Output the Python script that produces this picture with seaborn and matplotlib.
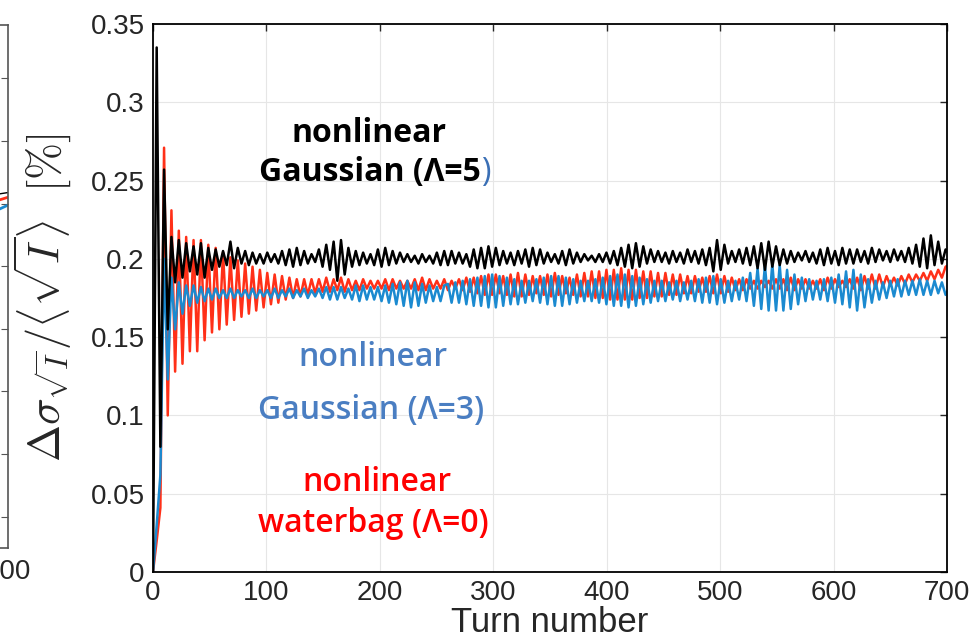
import numpy as np
import pandas as pd
import matplotlib
matplotlib.use("Agg")
import matplotlib.pyplot as plt
import seaborn as sns

# turn samples (every half oscillation)
turns = np.arange(217) * 3.25

# nonlinear Gaussian, Lambda = 5
black_l5 = [
    0.0, 0.335, 0.08, 0.257, 0.155, 0.214, 0.185, 0.212, 0.188, 0.21,
    0.192, 0.208, 0.19, 0.21, 0.188, 0.207, 0.193, 0.206, 0.195, 0.205,
    0.196, 0.211, 0.194, 0.207, 0.197, 0.205, 0.196, 0.204, 0.197, 0.203,
    0.197, 0.204, 0.198, 0.203, 0.197, 0.205, 0.196, 0.206, 0.195, 0.207,
    0.196, 0.205, 0.197, 0.203, 0.198, 0.206, 0.195, 0.209, 0.193, 0.211,
    0.186, 0.212, 0.19, 0.207, 0.195, 0.205, 0.196, 0.204, 0.197, 0.203,
    0.196, 0.206, 0.195, 0.207, 0.196, 0.205, 0.197, 0.204, 0.198, 0.203,
    0.198, 0.202, 0.197, 0.203, 0.198, 0.202, 0.197, 0.204, 0.196, 0.205,
    0.196, 0.205, 0.197, 0.204, 0.197, 0.203, 0.195, 0.206, 0.194, 0.207,
    0.194, 0.208, 0.195, 0.207, 0.196, 0.205, 0.197, 0.204, 0.196, 0.205,
    0.197, 0.206, 0.195, 0.207, 0.196, 0.206, 0.197, 0.204, 0.198, 0.203,
    0.197, 0.205, 0.196, 0.206, 0.197, 0.204, 0.198, 0.203, 0.199, 0.202,
    0.198, 0.203, 0.198, 0.204, 0.197, 0.205, 0.196, 0.207, 0.195, 0.209,
    0.194, 0.21, 0.195, 0.208, 0.197, 0.206, 0.198, 0.205, 0.198, 0.204,
    0.197, 0.205, 0.198, 0.204, 0.197, 0.206, 0.198, 0.205, 0.197, 0.206,
    0.196, 0.207, 0.192, 0.212, 0.193, 0.209, 0.197, 0.205, 0.198, 0.206,
    0.197, 0.207, 0.196, 0.208, 0.194, 0.21, 0.193, 0.211, 0.195, 0.208,
    0.196, 0.206, 0.197, 0.205, 0.198, 0.204, 0.199, 0.205, 0.198, 0.204,
    0.197, 0.206, 0.196, 0.207, 0.197, 0.205, 0.196, 0.207, 0.197, 0.206,
    0.197, 0.206, 0.198, 0.205, 0.197, 0.207, 0.198, 0.206, 0.199, 0.205,
    0.198, 0.206, 0.199, 0.205, 0.198, 0.207, 0.197, 0.209, 0.195, 0.213,
    0.194, 0.215, 0.196, 0.211, 0.197, 0.206, 0.203,
]

# nonlinear Gaussian, Lambda = 3
blue_l3 = [
    0.0, 0.03, 0.062, 0.2, 0.123, 0.188, 0.155, 0.185, 0.165, 0.183,
    0.17, 0.183, 0.172, 0.182, 0.173, 0.181, 0.174, 0.181, 0.175, 0.18,
    0.175, 0.181, 0.175, 0.18, 0.176, 0.18, 0.175, 0.181, 0.175, 0.18,
    0.176, 0.18, 0.175, 0.181, 0.175, 0.18, 0.176, 0.181, 0.175, 0.18,
    0.176, 0.181, 0.175, 0.18, 0.176, 0.181, 0.175, 0.182, 0.174, 0.182,
    0.174, 0.182, 0.175, 0.181, 0.174, 0.183, 0.173, 0.183, 0.174, 0.182,
    0.174, 0.182, 0.173, 0.183, 0.172, 0.184, 0.171, 0.185, 0.17, 0.186,
    0.169, 0.185, 0.17, 0.184, 0.172, 0.183, 0.173, 0.182, 0.173, 0.183,
    0.184, 0.172, 0.185, 0.172, 0.186, 0.171, 0.187, 0.17, 0.188, 0.17,
    0.189, 0.169, 0.19, 0.169, 0.189, 0.17, 0.188, 0.171, 0.187, 0.171,
    0.186, 0.172, 0.186, 0.173, 0.187, 0.172, 0.188, 0.171, 0.189, 0.17,
    0.189, 0.17, 0.188, 0.171, 0.187, 0.172, 0.186, 0.173, 0.186, 0.173,
    0.187, 0.172, 0.188, 0.171, 0.189, 0.17, 0.19, 0.17, 0.19, 0.169,
    0.189, 0.17, 0.188, 0.171, 0.187, 0.172, 0.186, 0.173, 0.186, 0.173,
    0.185, 0.174, 0.186, 0.173, 0.185, 0.174, 0.186, 0.173, 0.187, 0.172,
    0.188, 0.172, 0.189, 0.171, 0.187, 0.172, 0.186, 0.173, 0.186, 0.174,
    0.188, 0.173, 0.191, 0.17, 0.194, 0.168, 0.196, 0.167, 0.197, 0.167,
    0.196, 0.167, 0.193, 0.168, 0.19, 0.171, 0.188, 0.173, 0.187, 0.174,
    0.186, 0.174, 0.187, 0.173, 0.188, 0.172, 0.19, 0.171, 0.192, 0.169,
    0.193, 0.167, 0.19, 0.169, 0.187, 0.172, 0.186, 0.174, 0.185, 0.175,
    0.186, 0.176, 0.187, 0.176, 0.186, 0.177, 0.186, 0.177, 0.187, 0.177,
    0.186, 0.177, 0.186, 0.178, 0.185, 0.177, 0.181,
]

# nonlinear waterbag, Lambda = 0
red_l0 = [
    0.0, 0.02, 0.041, 0.271, 0.1, 0.231, 0.128, 0.218, 0.133, 0.214,
    0.141, 0.212, 0.141, 0.212, 0.148, 0.209, 0.153, 0.207, 0.155, 0.204,
    0.158, 0.201, 0.161, 0.199, 0.163, 0.197, 0.165, 0.195, 0.167, 0.193,
    0.169, 0.191, 0.171, 0.19, 0.172, 0.189, 0.174, 0.188, 0.175, 0.187,
    0.176, 0.187, 0.177, 0.187, 0.178, 0.187, 0.179, 0.188, 0.179, 0.187,
    0.18, 0.188, 0.179, 0.187, 0.18, 0.186, 0.18, 0.187, 0.181, 0.186,
    0.181, 0.186, 0.181, 0.187, 0.18, 0.187, 0.181, 0.186, 0.181, 0.186,
    0.181, 0.187, 0.18, 0.188, 0.18, 0.187, 0.181, 0.186, 0.181, 0.187,
    0.18, 0.186, 0.181, 0.187, 0.18, 0.188, 0.179, 0.188, 0.178, 0.189,
    0.177, 0.19, 0.177, 0.19, 0.178, 0.189, 0.177, 0.19, 0.176, 0.191,
    0.176, 0.19, 0.177, 0.189, 0.178, 0.189, 0.177, 0.19, 0.176, 0.191,
    0.177, 0.189, 0.178, 0.188, 0.177, 0.19, 0.176, 0.191, 0.176, 0.192,
    0.175, 0.192, 0.175, 0.193, 0.174, 0.193, 0.174, 0.194, 0.174, 0.193,
    0.174, 0.193, 0.175, 0.192, 0.175, 0.192, 0.176, 0.191, 0.176, 0.191,
    0.177, 0.19, 0.177, 0.19, 0.178, 0.189, 0.178, 0.189, 0.179, 0.188,
    0.179, 0.189, 0.178, 0.19, 0.178, 0.189, 0.179, 0.188, 0.18, 0.187,
    0.18, 0.187, 0.181, 0.186, 0.181, 0.186, 0.182, 0.186, 0.181, 0.187,
    0.181, 0.187, 0.18, 0.188, 0.18, 0.187, 0.181, 0.187, 0.181, 0.186,
    0.181, 0.187, 0.18, 0.188, 0.181, 0.187, 0.182, 0.186, 0.182, 0.187,
    0.181, 0.188, 0.18, 0.189, 0.181, 0.19, 0.181, 0.19, 0.182, 0.189,
    0.183, 0.188, 0.183, 0.189, 0.184, 0.19, 0.185, 0.19, 0.186, 0.191,
    0.186, 0.192, 0.187, 0.193, 0.188, 0.195, 0.196,
]

# tail ends of the neighbouring (cropped) panel on the left
left_turns = [690, 700]
left_black = [0.226, 0.227]
left_red = [0.222, 0.224]
left_blue = [0.216, 0.219]

x_ticks = [0, 100, 200, 300, 400, 500, 600, 700]
y_ticks = [0, 0.05, 0.1, 0.15, 0.2, 0.25, 0.3, 0.35]
y_tick_labels = ["0", "0.05", "0.1", "0.15", "0.2", "0.25", "0.3", "0.35"]

c_black = "#000000"
c_blue = "#1b8ad0"
c_red = "#ff3018"

sns.set_style("white")
plt.rcParams["font.family"] = ["Liberation Sans", "DejaVu Sans"]
plt.rcParams["mathtext.fontset"] = "cm"

df = pd.DataFrame({"turn": turns, "black": black_l5, "blue": blue_l3, "red": red_l0})

fig = plt.figure(figsize=(9.78, 6.4), dpi=100)

# cropped neighbour panel
axl = fig.add_axes([(8 - 700) / 978, 92 / 640, 700 / 978, 523 / 640])
sns.lineplot(x=left_turns, y=left_red, color=c_red, lw=2, ax=axl)
sns.lineplot(x=left_turns, y=left_blue, color=c_blue, lw=2, ax=axl)
sns.lineplot(x=left_turns, y=left_black, color=c_black, lw=1, ax=axl)
axl.set_xlim(0, 700)
axl.set_ylim(0, 0.334)
axl.set_xticks([700])
axl.set_xticklabels(["700"])
axl.set_yticks(np.arange(0.02, 0.334, 0.04))
axl.set_yticklabels([])
axl.tick_params(direction="in", length=5, right=True, labelsize=20, pad=8, color="#555555")
for s in axl.spines.values():
    s.set_color("#555555")
    s.set_linewidth(1.2)
axl.set_xlabel("")
axl.set_ylabel("")

# main panel
ax = fig.add_axes([153 / 978, 68 / 640, 794 / 978, 548 / 640])
sns.lineplot(data=df, x="turn", y="red", color=c_red, lw=1.8, ax=ax)
sns.lineplot(data=df, x="turn", y="blue", color=c_blue, lw=1.8, ax=ax)
sns.lineplot(data=df, x="turn", y="black", color=c_black, lw=1.8, ax=ax)

ax.set_xlim(0, 700)
ax.set_ylim(0, 0.35)
ax.set_xticks(x_ticks)
ax.set_yticks(y_ticks)
ax.set_yticklabels(y_tick_labels)
ax.grid(True, color="#e6e6e6", lw=0.8)
ax.tick_params(direction="in", length=5, width=1, top=True, right=True,
               labelsize=20, pad=6)
for s in ax.spines.values():
    s.set_color("black")
    s.set_linewidth(1.3)

ax.set_xlabel("Turn number", fontsize=25, labelpad=0)
ax.set_ylabel(r"$\Delta\sigma_{\sqrt{I}}/\langle\sqrt{I}\rangle\ \ [\%]$", fontsize=32)
ax.yaxis.set_label_coords(-0.10, 0.5)

# annotations
fs = 23
fam = ["Open Sans", "DejaVu Sans"]
ax.text(190, 0.280, "nonlinear", ha="center", va="center", fontsize=fs,
        fontweight="bold", color=c_black, family=fam)
ax.text(289, 0.255, "Gaussian (\u039b=5", ha="right", va="center", fontsize=fs,
        fontweight="bold", color=c_black, family=fam)
ax.text(289, 0.255, ")", ha="left", va="center", fontsize=fs,
        color="#3a6fb5", family=fam)
ax.text(194, 0.137, "nonlinear", ha="center", va="center", fontsize=fs,
        fontweight="semibold", color="#4a7ec2", family=fam)
ax.text(192, 0.103, "Gaussian (\u039b=3)", ha="center", va="center", fontsize=fs,
        fontweight="semibold", color="#4a7ec2", family=fam)
ax.text(197, 0.057, "nonlinear", ha="center", va="center", fontsize=fs,
        fontweight="semibold", color="#ff0000", family=fam)
ax.text(194, 0.031, "waterbag (\u039b=0)", ha="center", va="center", fontsize=fs,
        fontweight="semibold", color="#ff0000", family=fam)

fig.savefig("out.png", dpi=100, facecolor="white")
